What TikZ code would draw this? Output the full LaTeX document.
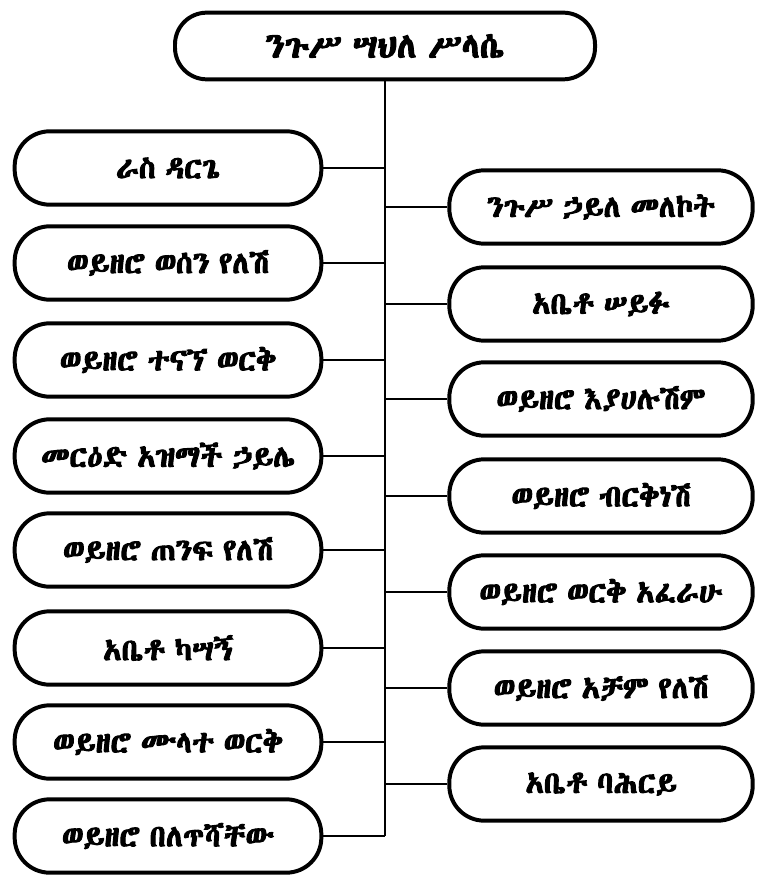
\documentclass[tikz,border=0pt]{standalone}
\usepackage{fontspec}
\newfontfamily\ethfont[FakeBold=3.2,WordSpace=0.7]{Abyssinica SIL}
\tikzset{
  pbox/.style={draw, line width=3.4pt, rounded corners=1.05cm, minimum height=2.2cm, align=center, font=\ethfont\fontsize{26}{30}\selectfont},
  lbox/.style={pbox, minimum width=9.2cm},
  rbox/.style={pbox, minimum width=9.1cm},
  conn/.style={line width=1.3pt}
}
\begin{document}
\begin{tikzpicture}[x=0.03cm,y=-0.03cm]
\useasboundingbox (0,0) rectangle (763,881);
\node[pbox, minimum width=12.6cm, minimum height=2cm, rounded corners=0.95cm, font=\ethfont\fontsize{30}{34}\selectfont] (top) at (385,46) {ንጉሥ ሣህለ ሥላሴ};
\node[lbox] (L1) at (168,168) {ራስ ዳርጌ};
\node[lbox] (L2) at (168,263) {ወይዘሮ ወሰን የለሽ};
\node[lbox] (L3) at (168,360) {ወይዘሮ ተናኘ ወርቅ};
\node[lbox] (L4) at (168,456) {መርዕድ አዝማች ኃይሌ};
\node[lbox] (L5) at (168,550) {ወይዘሮ ጠንፍ የለሽ};
\node[lbox] (L6) at (168,648) {አቤቶ ካሣኝ};
\node[lbox] (L7) at (168,742) {ወይዘሮ ሙላተ ወርቅ};
\node[lbox] (L8) at (168,836) {ወይዘሮ በለጥሻቸው};
\node[rbox] (R1) at (601,207) {ንጉሥ ኃይለ መለኮት};
\node[rbox] (R2) at (601,304) {አቤቶ ሠይፉ};
\node[rbox] (R3) at (601,399) {ወይዘሮ እያሀሉሽም};
\node[rbox] (R4) at (601,496) {ወይዘሮ ብርቅነሽ};
\node[rbox] (R5) at (601,592) {ወይዘሮ ወርቅ አፈራሁ};
\node[rbox] (R6) at (601,688) {ወይዘሮ አቻም የለሽ};
\node[rbox] (R7) at (601,784) {አቤቶ ባሕርይ};
\draw[conn] (top.south) -- (top.south |- L8.east);
\foreach \n in {L1,L2,L3,L4,L5,L6,L7,L8} \draw[conn] (\n.east) -- (\n.east -| top.south);
\foreach \n in {R1,R2,R3,R4,R5,R6,R7} \draw[conn] (\n.west) -- (\n.west -| top.south);
\end{tikzpicture}
\end{document}
